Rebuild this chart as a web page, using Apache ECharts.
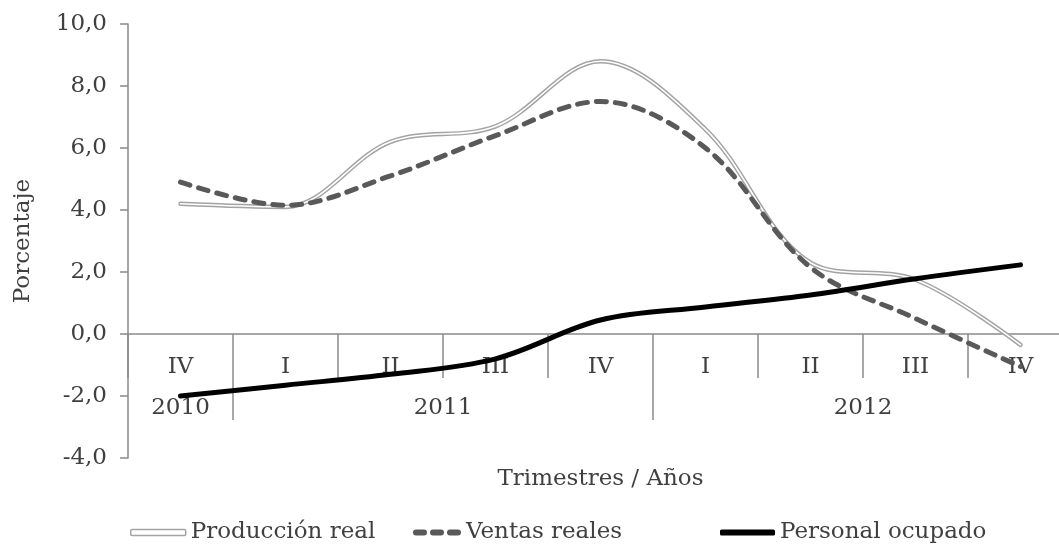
<!DOCTYPE html>
<html>
<head>
<meta charset="utf-8">
<script src="https://cdn.jsdelivr.net/npm/echarts@6/dist/echarts.min.js"></script>
<style>
html,body{margin:0;padding:0;background:#fff;}
#chart{width:1059px;height:545px;}
</style>
</head>
<body>
<div id="chart"></div>
<script>
// ---- data ----
const categories = ['IV', 'I', 'II', 'III', 'IV', 'I', 'II', 'III', 'IV'];
const years = ['2010', '2011', '2012'];
const quartersPerYear = [1, 4, 4];
const produccionReal = [4.2, 4.1, 6.2, 6.7, 8.8, 6.6, 2.3, 1.75, -0.35];
const ventasReales = [4.9, 4.15, 5.1, 6.4, 7.5, 6.0, 2.15, 0.5, -1.05];
const personalOcupado = [-2.0, -1.65, -1.3, -0.8, 0.45, 0.87, 1.26, 1.78, 2.23];
const yTicks = { min: -4, max: 10, step: 2 };

// year boundaries and centres in category units
const yearBounds = [];
const yearCentres = [];
let acc = 0;
quartersPerYear.forEach((q, i) => {
  yearCentres.push(acc + q / 2);
  acc += q;
  if (i < quartersPerYear.length - 1) yearBounds.push(acc);
});

const FONT = 'DejaVu Serif';
const TXT = '#404040';
const AX = '#8a8a8a';
const FS = 23;

const GRID = { left: 128, top: 24, bottom: 87, right: -14 };
const gridH = 545 - GRID.top - GRID.bottom;
// move the category axis up to the zero line of the value axis
const zeroOffset = -(0 - yTicks.min) / (yTicks.max - yTicks.min) * gridH;

const dashIcon = 'path://M3,0H11A3,3 0 0 1 11,6H3A3,3 0 0 1 3,0Z' +
  'M20,0H28A3,3 0 0 1 28,6H20A3,3 0 0 1 20,0Z' +
  'M37,0H45A3,3 0 0 1 45,6H37A3,3 0 0 1 37,0Z';

const chart = echarts.init(document.getElementById('chart'));
chart.setOption({
  animation: false,
  backgroundColor: '#fff',
  textStyle: { fontFamily: FONT },
  grid: Object.assign({ containLabel: false, outerBoundsMode: 'none' }, GRID),
  xAxis: [
    {
      type: 'category',
      position: 'bottom',
      offset: zeroOffset,
      data: categories,
      boundaryGap: true,
      axisLine: { onZero: false, lineStyle: { color: AX, width: 1.5 } },
      axisTick: { show: true, interval: 0, length: 44, lineStyle: { color: AX, width: 1.5 } },
      axisLabel: { interval: 0, margin: 22, color: TXT, fontFamily: FONT, fontSize: FS },
      splitLine: { show: false },
      name: 'Trimestres / Años',
      nameLocation: 'middle',
      nameGap: 134,
      nameTextStyle: { color: TXT, fontFamily: FONT, fontSize: FS, verticalAlign: 'top' }
    },
    {
      type: 'value',
      position: 'bottom',
      offset: zeroOffset,
      min: 0,
      max: categories.length,
      axisLine: { show: false, onZero: false },
      axisTick: { show: true, customValues: yearBounds, length: 86, lineStyle: { color: AX, width: 1.5 } },
      axisLabel: {
        customValues: yearCentres,
        margin: 63,
        color: TXT, fontFamily: FONT, fontSize: FS,
        formatter: function (v) {
          const i = yearCentres.findIndex(c => Math.abs(c - v) < 1e-6);
          return i >= 0 ? years[i] : '';
        }
      },
      splitLine: { show: false }
    }
  ],
  yAxis: {
    type: 'value',
    min: yTicks.min,
    max: yTicks.max,
    interval: yTicks.step,
    axisLine: { show: true, lineStyle: { color: AX, width: 1.5 } },
    axisTick: { show: true, length: 8, lineStyle: { color: AX, width: 1.5 } },
    axisLabel: {
      margin: 21, color: TXT, fontFamily: FONT, fontSize: FS,
      formatter: v => v.toFixed(1).replace('.', ',')
    },
    splitLine: { show: false },
    name: 'Porcentaje',
    nameLocation: 'middle',
    nameGap: 93,
    nameTextStyle: { color: TXT, fontFamily: FONT, fontSize: FS }
  },
  legend: [
    {
      left: 130, top: 521, padding: 0, itemWidth: 55, itemHeight: 6,
      textStyle: { color: TXT, fontFamily: FONT, fontSize: FS },
      data: [{ name: 'Producción real', icon: 'roundRect',
               itemStyle: { color: '#ffffff', borderColor: '#a3a3a3', borderWidth: 1.5 } }]
    },
    {
      left: 413, top: 521, padding: 0, itemWidth: 48, itemHeight: 6,
      textStyle: { color: TXT, fontFamily: FONT, fontSize: FS },
      data: [{ name: 'Ventas reales', icon: dashIcon, itemStyle: { color: '#595959', borderWidth: 0 } }]
    },
    {
      left: 720, top: 521, padding: 0, itemWidth: 55, itemHeight: 6,
      textStyle: { color: TXT, fontFamily: FONT, fontSize: FS },
      data: [{ name: 'Personal ocupado', icon: 'roundRect', itemStyle: { color: '#000000', borderWidth: 0 } }]
    }
  ],
  series: [
    {
      name: 'Producción real', type: 'line', data: produccionReal,
      xAxisIndex: 0, smooth: 0.35, symbol: 'none',
      lineStyle: { color: '#a3a3a3', width: 4.5, cap: 'round' },
      itemStyle: { color: '#a3a3a3' }
    },
    {
      name: 'Producción real (interior)', type: 'line', data: produccionReal,
      xAxisIndex: 0, smooth: 0.35, symbol: 'none', silent: true,
      lineStyle: { color: '#ffffff', width: 1.6, cap: 'round' }
    },
    {
      name: 'Ventas reales', type: 'line', data: ventasReales,
      xAxisIndex: 0, smooth: 0.35, symbol: 'none',
      lineStyle: { color: '#595959', width: 5, type: [10, 9], cap: 'round' },
      itemStyle: { color: '#595959' }
    },
    {
      name: 'Personal ocupado', type: 'line', data: personalOcupado,
      xAxisIndex: 0, smooth: 0.35, symbol: 'none',
      lineStyle: { color: '#000000', width: 5, cap: 'round' },
      itemStyle: { color: '#000000' }
    }
  ]
});
</script>
</body>
</html>
